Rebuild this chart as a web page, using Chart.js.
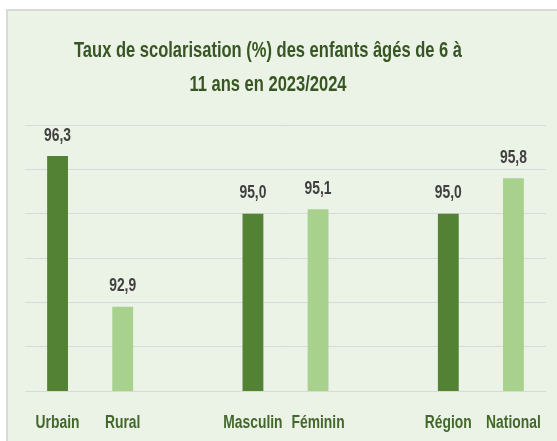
<!DOCTYPE html>
<html>
<head>
<meta charset="utf-8">
<script src="https://cdn.jsdelivr.net/npm/chart.js@4/dist/chart.umd.min.js"></script>
<style>
  html, body { margin: 0; padding: 0; background: #ffffff; width: 557px; height: 441px; overflow: hidden; }
  #box { position: absolute; left: 6px; top: 9px; width: 549px; height: 430px;
         border-left: 2px solid #d9d9d9; border-top: 2px solid #d9d9d9; background: #EBF2E6; }
  canvas { display: block; }
</style>
</head>
<body>
<div id="box"><canvas id="c" width="549" height="430"></canvas></div>
<script>
const titleLines = ['Taux de scolarisation (%) des enfants âgés de 6 à', '11 ans en 2023/2024'];
const categories = ['Urbain', 'Rural', '', 'Masculin', 'Féminin', '', 'Région', 'National'];
const values = [96.3, 92.9, null, 95.0, 95.1, null, 95.0, 95.8];
const barColors = ['#548235', '#A9D18E', '#548235', '#548235', '#A9D18E', '#548235', '#548235', '#A9D18E'];
const yMin = 91, yMax = 97, yStep = 1;

const FONT = "'Liberation Sans', Arial, sans-serif";
const SX = 0.77; // horizontal condensing to mimic a narrow face

function narrowText(ctx, text, x, y) {
  ctx.save();
  ctx.translate(x, y);
  ctx.scale(SX, 1);
  ctx.fillText(text, 0, 0);
  ctx.restore();
}

const titlePlugin = {
  id: 'customTitle',
  afterDraw(chart) {
    const ctx = chart.ctx;
    ctx.save();
    ctx.font = "bold 22px " + FONT;
    ctx.fillStyle = '#375623';
    ctx.textAlign = 'center';
    ctx.textBaseline = 'alphabetic';
    const w = ctx.measureText(titleLines[0]).width;
    const s = 388 / w;
    [[titleLines[0], 45.7], [titleLines[1], 79.7]].forEach(([t, y]) => {
      ctx.save();
      ctx.translate(260, y);
      ctx.scale(s, 1);
      ctx.fillText(t, 0, 0);
      ctx.restore();
    });
    ctx.restore();
  }
};

const labelsPlugin = {
  id: 'labelsPlugin',
  afterDatasetsDraw(chart) {
    const ctx = chart.ctx;
    const meta = chart.getDatasetMeta(0);
    const xs = chart.scales.x;
    ctx.save();
    ctx.textAlign = 'center';
    ctx.textBaseline = 'alphabetic';
    ctx.font = "bold 18px " + FONT;
    ctx.fillStyle = '#404040';
    meta.data.forEach((bar, i) => {
      const v = values[i];
      if (v === null || v === undefined) return;
      narrowText(ctx, v.toFixed(1).replace('.', ','), bar.x, bar.y - 15.5);
    });
    ctx.fillStyle = '#43682B';
    categories.forEach((c, i) => {
      if (!c) return;
      narrowText(ctx, c, xs.getPixelForValue(i), 416.7);
    });
    ctx.restore();
  }
};

new Chart(document.getElementById('c'), {
  type: 'bar',
  data: {
    labels: categories,
    datasets: [{
      data: values,
      backgroundColor: barColors,
      borderWidth: 0,
      categoryPercentage: 1,
      barPercentage: 0.32
    }]
  },
  options: {
    responsive: false,
    animation: false,
    devicePixelRatio: 1,
    layout: { padding: { left: 0, right: 11, top: 114, bottom: 0 } },
    plugins: {
      legend: { display: false },
      title: { display: false },
      tooltip: { enabled: false }
    },
    scales: {
      x: {
        grid: { display: false, drawTicks: false },
        border: { display: false },
        ticks: { display: false },
        afterFit(scale) { scale.height = 50; scale.paddingLeft = 0; scale.paddingRight = 0; }
      },
      y: {
        min: yMin, max: yMax,
        grid: { color: '#D9D9D9', lineWidth: 1, drawTicks: false },
        border: { display: false },
        ticks: { display: false, stepSize: yStep },
        afterFit(scale) { scale.width = 17; }
      }
    }
  },
  plugins: [titlePlugin, labelsPlugin]
});
</script>
</body>
</html>
